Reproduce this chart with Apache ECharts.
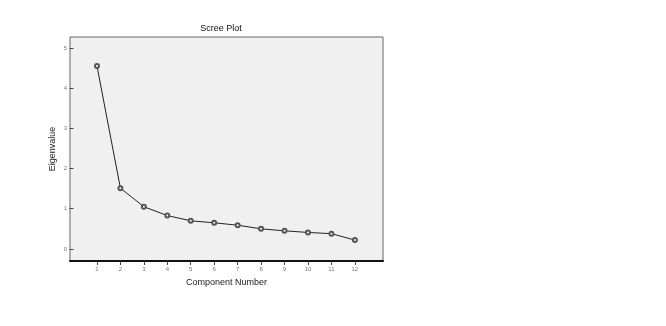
<!DOCTYPE html>
<html>
<head>
<meta charset="utf-8">
<script src="https://cdn.jsdelivr.net/npm/echarts@6/dist/echarts.min.js"></script>
<style>
  html, body { margin: 0; padding: 0; background: #fff; }
  #chart { width: 666px; height: 326px; }
</style>
</head>
<body>
<div id="chart"></div>
<script>
// component numbers and their eigenvalues
const components = [1, 2, 3, 4, 5, 6, 7, 8, 9, 10, 11, 12]
const eigenvalues = [4.55, 1.51, 1.05, 0.83, 0.70, 0.65, 0.59, 0.50, 0.45, 0.41, 0.38, 0.22]
const yTicks = [0, 1, 2, 3, 4, 5]

const chart = echarts.init(document.getElementById('chart'))

const font = 'Arial, "Liberation Sans", sans-serif'

chart.setOption({
  animation: false,
  title: {
    text: 'Scree Plot',
    left: 216,
    top: 19,
    textAlign: 'center',
    textStyle: { fontFamily: font, fontSize: 9, fontWeight: 'normal', color: '#111' }
  },
  grid: {
    left: 70, top: 37, width: 313, height: 224,
    show: true,
    backgroundColor: '#f0f0f0',
    borderColor: '#666',
    borderWidth: 1
  },
  xAxis: {
    type: 'value',
    min: -0.15,
    max: 13.2,
    name: 'Component Number',
    nameLocation: 'middle',
    nameGap: 17,
    nameTextStyle: { fontFamily: font, fontSize: 9, color: '#222' },
    axisLine: { show: true, onZero: false, lineStyle: { color: '#111', width: 2 } },
    axisTick: { show: true, customValues: components, length: 4, lineStyle: { color: '#444' } },
    axisLabel: {
      customValues: components,
      fontFamily: font, fontSize: 6, color: '#777', margin: 5
    },
    splitLine: { show: false }
  },
  yAxis: {
    type: 'value',
    min: -0.3,
    max: 5.27,
    name: 'Eigenvalue',
    nameLocation: 'middle',
    nameGap: 13,
    nameTextStyle: { fontFamily: font, fontSize: 9, color: '#222' },
    axisLine: { show: false },
    axisTick: { show: true, customValues: yTicks, length: 4, lineStyle: { color: '#444' } },
    axisLabel: {
      customValues: yTicks,
      fontFamily: font, fontSize: 6, color: '#777', margin: 3
    },
    splitLine: { show: false }
  },
  series: [{
    type: 'line',
    data: components.map((c, i) => [c, eigenvalues[i]]),
    symbol: 'emptyCircle',
    symbolSize: 4,
    lineStyle: { color: '#222', width: 1 },
    itemStyle: { color: '#555', borderWidth: 0.6 }
  }]
})
</script>
</body>
</html>
